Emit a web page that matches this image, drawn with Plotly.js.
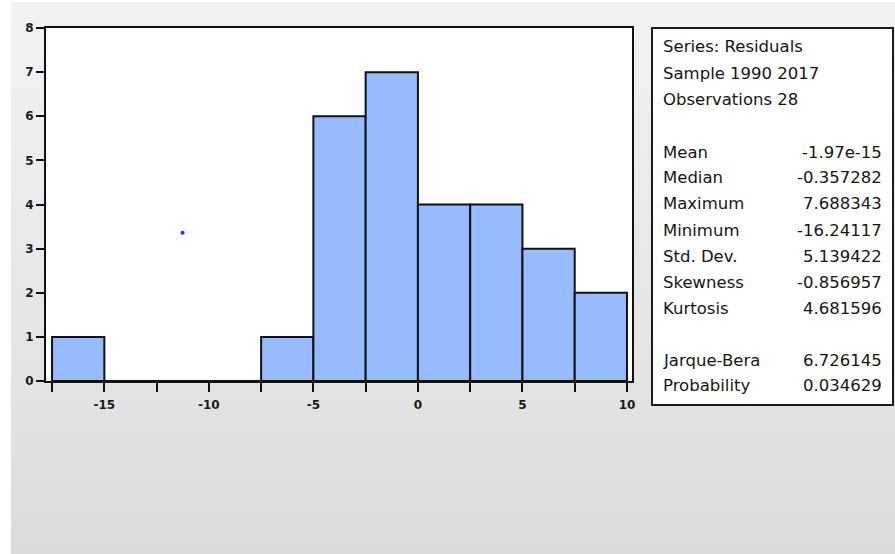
<!DOCTYPE html>
<html>
<head>
<meta charset="utf-8">
<script src="https://cdn.plot.ly/plotly-3.0.1.min.js"></script>
<style>
  html, body { margin: 0; padding: 0; background: #ffffff; }
  #wrap { position: relative; width: 895px; height: 554px; overflow: hidden; }
  #bg { position: absolute; left: 11px; top: 2px; right: 0; bottom: 0;
        background: linear-gradient(to bottom, #f2f2f2 0%, #e3e3e3 70%, #dadada 100%); }
  #chart { position: absolute; left: 0; top: 0; width: 895px; height: 554px; }
</style>
</head>
<body>
<div id="wrap"><div id="bg"></div><div id="chart"></div></div>
<script>
// ---- data ----
var binLeft = [-17.5, -15, -12.5, -10, -7.5, -5, -2.5, 0, 2.5, 5, 7.5];
var binWidth = 2.5;
var counts = [1, 0, 0, 0, 1, 6, 7, 4, 4, 3, 2];
var xTickVals = [-17.5, -15, -12.5, -10, -7.5, -5, -2.5, 0, 2.5, 5, 7.5, 10];
var xTickText = ['', '-15', '', '-10', '', '-5', '', '0', '', '5', '', '10'];
var yTickVals = [0, 1, 2, 3, 4, 5, 6, 7, 8];
var strayX = [-11.26];
var strayY = [3.36];
var headerLines = ['Series: Residuals', 'Sample 1990 2017', 'Observations 28'];
var statNames = ['Mean', 'Median', 'Maximum', 'Minimum', 'Std. Dev.', 'Skewness', 'Kurtosis'];
var statValues = ['-1.97e-15', '-0.357282', '7.688343', '-16.24117', '5.139422', '-0.856957', '4.681596'];
var testNames = ['Jarque-Bera', 'Probability'];
var testValues = ['6.726145', '0.034629'];

// ---- layout geometry (pixels) ----
var W = 895, H = 554;
var M = {l: 46, r: 263, t: 28, b: 173, pad: 0};
var pw = W - M.l - M.r, ph = H - M.t - M.b;
function px2x(p) { return (p - M.l) / pw; }
function py2y(p) { return 1 - (p - M.t) / ph; }

var textFont = {family: 'DejaVu Sans, sans-serif', size: 16.5, color: '#151515'};
var annotations = [];
var leftX = px2x(661), rightX = px2x(884);
function addLine(label, value, ypx) {
  annotations.push({xref: 'paper', yref: 'paper', x: leftX, y: py2y(ypx), text: label,
    showarrow: false, xanchor: 'left', yanchor: 'middle', font: textFont});
  if (value !== null) {
    annotations.push({xref: 'paper', yref: 'paper', x: rightX, y: py2y(ypx), text: value,
      showarrow: false, xanchor: 'right', yanchor: 'middle', font: textFont});
  }
}
var lineStep = 26;
headerLines.forEach(function (t, i) { addLine(t, null, 47 + i * lineStep); });
statNames.forEach(function (t, i) { addLine(t, statValues[i], 152 + i * lineStep); });
testNames.forEach(function (t, i) { addLine(t, testValues[i], 360 + i * lineStep); });

var traces = [
  {
    type: 'bar',
    x: binLeft,
    y: counts,
    width: binWidth,
    offset: 0,
    marker: {color: '#96bcff', line: {color: '#111111', width: 2}},
    hoverinfo: 'x+y'
  },
  {
    type: 'scatter',
    mode: 'markers',
    x: strayX,
    y: strayY,
    marker: {color: '#2a2aff', size: 4},
    hoverinfo: 'skip'
  }
];

var tickFont = {family: 'DejaVu Sans, sans-serif', size: 12, color: '#1a1a1a', weight: 'bold'};
var layout = {
  width: W, height: H,
  margin: M,
  paper_bgcolor: 'rgba(0,0,0,0)',
  plot_bgcolor: '#ffffff',
  showlegend: false,
  bargap: 0,
  xaxis: {
    range: [-17.79, 10.24],
    tickmode: 'array', tickvals: xTickVals, ticktext: xTickText,
    ticks: 'outside', ticklen: 9, tickwidth: 2, tickcolor: '#111111',
    showline: true, linecolor: '#111111', linewidth: 2, mirror: true,
    showgrid: false, zeroline: false,
    tickfont: tickFont, ticklabelstandoff: 3,
    fixedrange: true
  },
  yaxis: {
    range: [0, 8],
    tickmode: 'array', tickvals: yTickVals,
    ticks: 'outside', ticklen: 8, tickwidth: 2, tickcolor: '#111111',
    showline: true, linecolor: '#111111', linewidth: 2, mirror: true,
    showgrid: false, zeroline: false,
    tickfont: tickFont,
    fixedrange: true
  },
  shapes: [
    {type: 'rect', xref: 'paper', yref: 'paper',
     x0: px2x(652), x1: px2x(893), y0: py2y(28), y1: py2y(405),
     fillcolor: '#ffffff', line: {color: '#1a1a1a', width: 2}, layer: 'below'}
  ],
  annotations: annotations
};

Plotly.newPlot('chart', traces, layout, {displayModeBar: false, staticPlot: true});
</script>
</body>
</html>
